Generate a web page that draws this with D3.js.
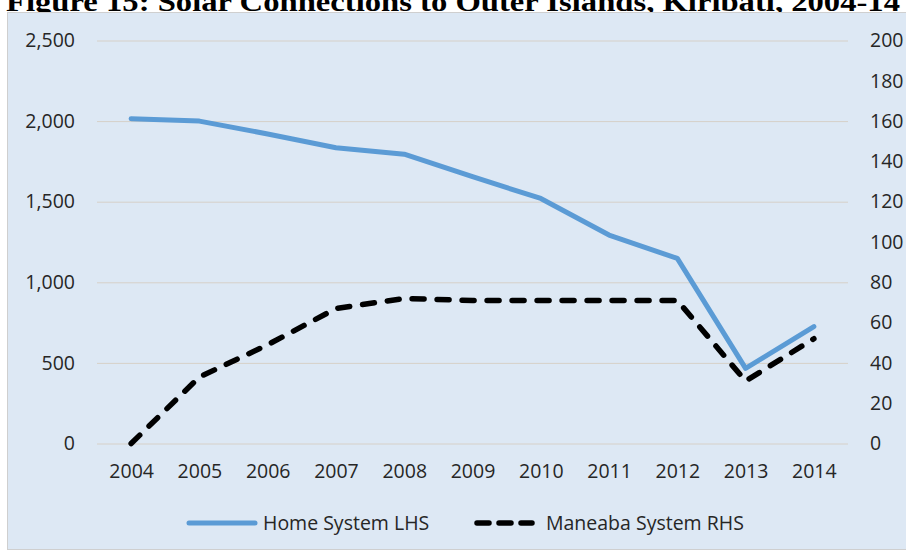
<!DOCTYPE html>
<html>
<head>
<meta charset="utf-8">
<script src="https://cdn.jsdelivr.net/npm/d3@7.9.0/dist/d3.min.js"></script>
<style>
  body { margin: 0; background: #fff; }
  svg { display: block; }
  .tick text { font-family: "Open Sans", sans-serif; font-size: 19.5px; fill: #262626; }
</style>
</head>
<body>
<svg id="chart" width="906" height="552"></svg>
<script>
// data
const years = ['2004', '2005', '2006', '2007', '2008', '2009', '2010', '2011', '2012', '2013', '2014'];
const homeSystem = [2015, 2000, 1920, 1835, 1795, 1655, 1520, 1293, 1148, 466, 725];
const maneabaSystem = [0, 33, 49, 67, 72, 71, 71, 71, 71, 31, 52];
const leftTicks = [0, 500, 1000, 1500, 2000, 2500];
const rightTicks = [0, 20, 40, 60, 80, 100, 120, 140, 160, 180, 200];
const titleText = 'Figure 15: Solar Connections to Outer Islands, Kiribati, 2004-14';
const legendLabels = ['Home System LHS', 'Maneaba System RHS'];

const svg = d3.select('#chart');

// plot box
const plotL = 97, plotR = 848, plotT = 40.5, plotB = 443.5;

// title, cut off at the top of the picture
svg.append('text')
  .attr('x', 6)
  .attr('y', 11)
  .attr('textLength', 894)
  .attr('lengthAdjust', 'spacingAndGlyphs')
  .attr('font-family', '"Liberation Serif", serif')
  .attr('font-weight', 'bold')
  .attr('font-size', 27)
  .text(titleText);

// chart panel
svg.append('rect')
  .attr('x', 7.5)
  .attr('y', 12.5)
  .attr('width', 910)
  .attr('height', 537)
  .attr('fill', '#dde8f4')
  .attr('stroke', '#cfcfcf')
  .attr('stroke-width', 1);

const x = d3.scalePoint().domain(years).range([plotL, plotR]).padding(0.5);
const yL = d3.scaleLinear().domain([0, 2500]).range([plotB, plotT]);
const yR = d3.scaleLinear().domain([0, 200]).range([plotB, plotT]);

// gridlines
const grid = svg.append('g')
  .attr('transform', `translate(${plotL},0)`)
  .call(d3.axisLeft(yL).tickValues(leftTicks).tickSize(-(plotR - plotL)).tickFormat(''));
grid.select('.domain').remove();
grid.selectAll('line').attr('stroke', '#d6d0c8').attr('stroke-width', 1);

// left axis
const axL = svg.append('g')
  .attr('transform', `translate(${plotL},0)`)
  .call(d3.axisLeft(yL).tickValues(leftTicks).tickSize(0).tickPadding(22).tickFormat(d3.format(',')));
axL.select('.domain').remove();

// right axis
const axR = svg.append('g')
  .attr('transform', `translate(${plotR},0)`)
  .call(d3.axisRight(yR).tickValues(rightTicks).tickSize(0).tickPadding(22));
axR.select('.domain').remove();

// x axis
const axX = svg.append('g')
  .attr('transform', `translate(0,${plotB})`)
  .call(d3.axisBottom(x).tickSize(0).tickPadding(21));
axX.select('.domain').remove();

// lines
const homeLine = d3.line()
  .x((d, i) => x(years[i]))
  .y(d => yL(d));
const maneabaLine = d3.line()
  .x((d, i) => x(years[i]))
  .y(d => yR(d));

svg.append('path')
  .datum(homeSystem)
  .attr('d', homeLine)
  .attr('fill', 'none')
  .attr('stroke', '#5b9bd5')
  .attr('stroke-width', 5)
  .attr('stroke-linejoin', 'round')
  .attr('stroke-linecap', 'round');

svg.append('path')
  .datum(maneabaSystem)
  .attr('d', maneabaLine)
  .attr('fill', 'none')
  .attr('stroke', '#000')
  .attr('stroke-width', 5.5)
  .attr('stroke-dasharray', '12,13')
  .attr('stroke-linejoin', 'round')
  .attr('stroke-linecap', 'round');

// legend
const legend = svg.append('g').attr('font-family', '"Open Sans", sans-serif').attr('font-size', 19.5).attr('fill', '#262626');
legend.append('line')
  .attr('x1', 189).attr('x2', 255).attr('y1', 523).attr('y2', 523)
  .attr('stroke', '#5b9bd5').attr('stroke-width', 5).attr('stroke-linecap', 'round');
legend.append('text').attr('x', 263).attr('y', 523).attr('dy', '0.35em').text(legendLabels[0]);
legend.append('line')
  .attr('x1', 477).attr('x2', 532).attr('y1', 523).attr('y2', 523)
  .attr('stroke', '#000').attr('stroke-width', 5.5)
  .attr('stroke-dasharray', '12,10').attr('stroke-linecap', 'round');
legend.append('text').attr('x', 546).attr('y', 523).attr('dy', '0.35em').text(legendLabels[1]);
</script>
</body>
</html>
